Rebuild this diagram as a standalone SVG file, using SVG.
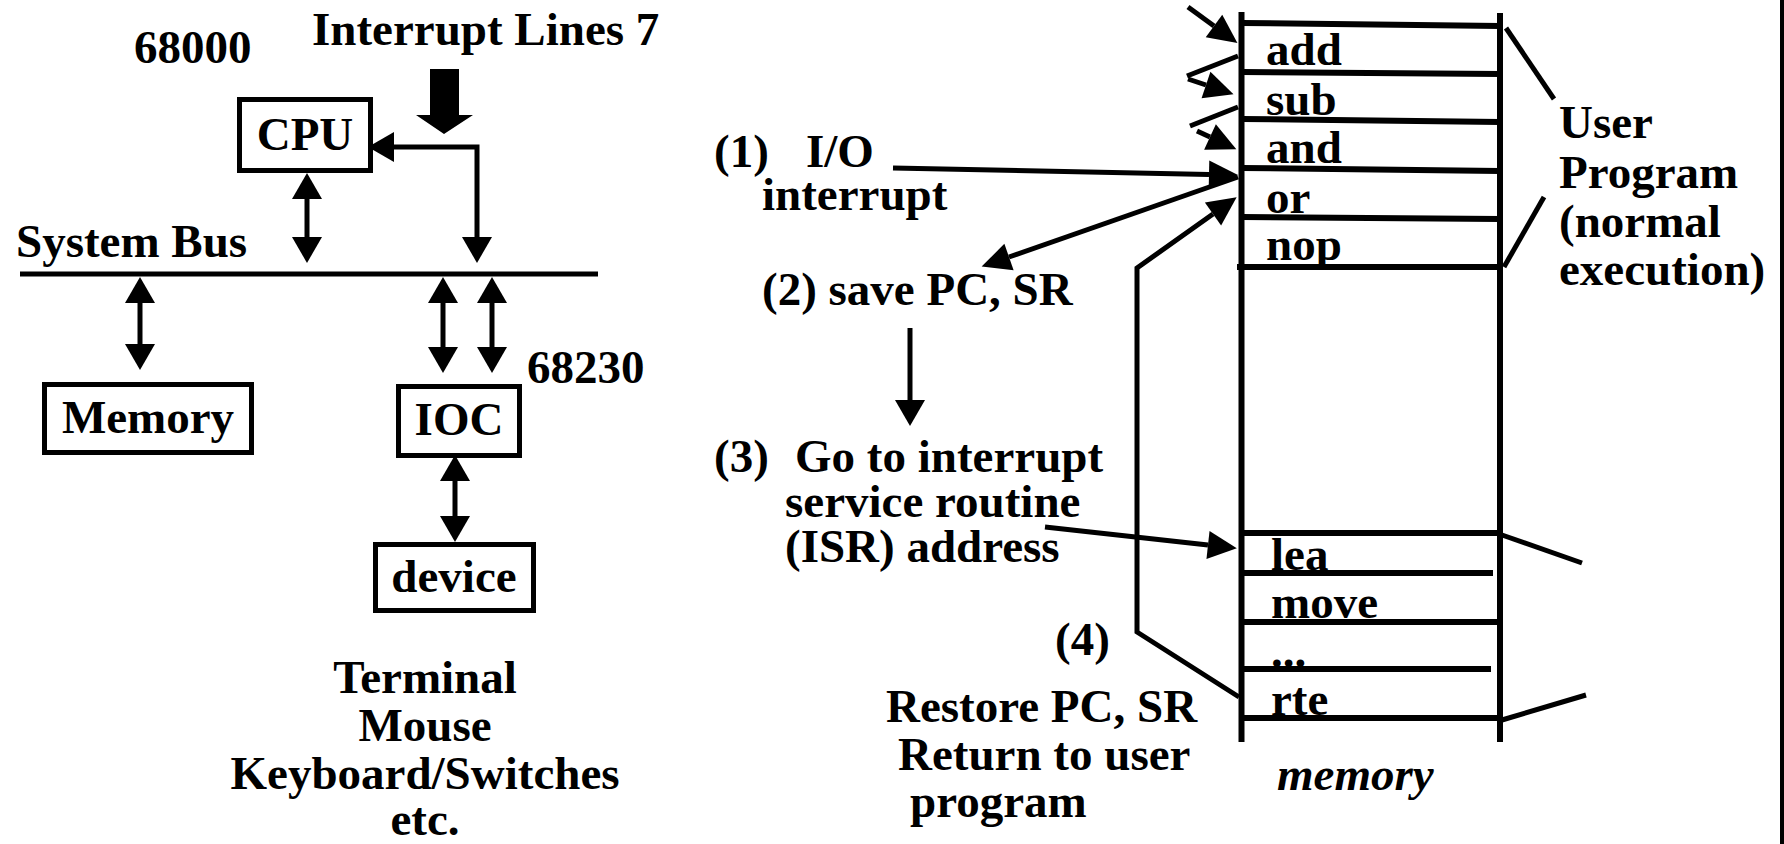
<svg xmlns="http://www.w3.org/2000/svg" width="1784" height="844" viewBox="0 0 1784 844">
  <style>
    text { font-family: "Liberation Serif", "Times New Roman", serif; font-weight: bold; font-size: 47px; fill: #000; }
    .it { font-style: italic; }
    .mid { text-anchor: middle; }
    .box { fill: #fff; stroke: #000; stroke-width: 5; }
    .ln { fill: none; stroke: #000; stroke-width: 5; }
    .mem { fill: none; stroke: #000; stroke-width: 6; }
  </style>
  <defs>
    <!-- arrowheads start at the end of the line and extend beyond it -->
    <marker id="ah" markerUnits="userSpaceOnUse" markerWidth="26" markerHeight="30" refX="0" refY="15" orient="auto-start-reverse" overflow="visible">
      <path d="M0,0 L26,15 L0,30 Z" fill="#000"/>
    </marker>
    <marker id="ah2" markerUnits="userSpaceOnUse" markerWidth="29" markerHeight="28" refX="0" refY="14" orient="auto-start-reverse" overflow="visible">
      <path d="M0,0 L29,14 L0,28 Z" fill="#000"/>
    </marker>
  </defs>
  <rect width="1784" height="844" fill="#fff"/>
  <!-- frame edge on the right -->
  <rect x="1780" y="0" width="4" height="844" fill="#000"/>

  <!-- ===== system block diagram ===== -->
  <text x="134" y="63">68000</text>
  <text x="312" y="45">Interrupt Lines 7</text>
  <polygon points="430,69 459,69 459,115 473,115 444,134 416,115 430,115" fill="#000"/>

  <line id="system-bus" class="ln" x1="20" y1="274" x2="598" y2="274"/>
  <text x="16" y="257">System Bus</text>

  <g id="cpu">
    <rect class="box" x="239.5" y="99.5" width="131" height="71"/>
    <text x="305" y="150" class="mid">CPU</text>
  </g>
  <g id="memory">
    <rect class="box" x="44.5" y="384.5" width="207" height="68"/>
    <text x="148" y="433" class="mid">Memory</text>
  </g>
  <g id="ioc">
    <rect class="box" x="398.5" y="386.5" width="121" height="69"/>
    <text x="459" y="435" class="mid">IOC</text>
    <text x="527" y="383">68230</text>
  </g>
  <g id="device">
    <rect class="box" x="375.5" y="544.5" width="158" height="66"/>
    <text x="454" y="592" class="mid">device</text>
  </g>
  <g id="device-list">
    <text x="425" y="693" class="mid">Terminal</text>
    <text x="425" y="741" class="mid">Mouse</text>
    <text x="425" y="789" class="mid">Keyboard/Switches</text>
    <text x="425" y="835" class="mid">etc.</text>
  </g>

  <g id="bus-connectors">
    <polyline class="ln" points="477,237 477,147 394,147" marker-start="url(#ah)" marker-end="url(#ah)"/>
    <line class="ln" x1="307" y1="199" x2="307" y2="237" marker-start="url(#ah)" marker-end="url(#ah)"/>
    <line class="ln" x1="140" y1="303" x2="140" y2="344" marker-start="url(#ah)" marker-end="url(#ah)"/>
    <line class="ln" x1="443" y1="303" x2="443" y2="347" marker-start="url(#ah)" marker-end="url(#ah)"/>
    <line class="ln" x1="492" y1="303" x2="492" y2="347" marker-start="url(#ah)" marker-end="url(#ah)"/>
    <line class="ln" x1="455" y1="481" x2="455" y2="516" marker-start="url(#ah)" marker-end="url(#ah)"/>
  </g>

  <!-- ===== memory map ===== -->
  <g id="memory-map">
    <line class="mem" x1="1241.5" y1="12" x2="1241.5" y2="742"/>
    <line class="mem" x1="1500" y1="13" x2="1500" y2="742"/>
    <line class="mem" x1="1242" y1="23" x2="1500" y2="26"/>
    <line class="mem" x1="1242" y1="72" x2="1500" y2="74"/>
    <line class="mem" x1="1242" y1="119" x2="1500" y2="122"/>
    <line class="mem" x1="1242" y1="168" x2="1500" y2="171"/>
    <line class="mem" x1="1242" y1="217" x2="1500" y2="219"/>
    <line class="mem" x1="1237" y1="267" x2="1500" y2="267"/>
    <line class="mem" x1="1242" y1="533" x2="1500" y2="533"/>
    <line class="mem" x1="1242" y1="573" x2="1493" y2="573"/>
    <line class="mem" x1="1242" y1="622" x2="1500" y2="622"/>
    <line class="mem" x1="1242" y1="669" x2="1491" y2="669"/>
    <line class="mem" x1="1242" y1="718" x2="1500" y2="718"/>
    <text x="1266" y="65">add</text>
    <text x="1266" y="115">sub</text>
    <text x="1266" y="163">and</text>
    <text x="1266" y="213">or</text>
    <text x="1266" y="260">nop</text>
    <text x="1271" y="570">lea</text>
    <text x="1271" y="618">move</text>
    <text x="1271" y="667">...</text>
    <text x="1271" y="715">rte</text>
    <text x="1277" y="790" class="it">memory</text>
  </g>

  <g id="user-program">
    <line class="ln" x1="1506" y1="28" x2="1554" y2="99"/>
    <line class="ln" x1="1544" y1="197" x2="1504" y2="267"/>
    <line class="ln" x1="1502" y1="535" x2="1582" y2="563"/>
    <line class="ln" x1="1502" y1="720" x2="1586" y2="695"/>
    <text x="1559" y="138">User</text>
    <text x="1559" y="188">Program</text>
    <text x="1559" y="237">(normal</text>
    <text x="1559" y="285">execution)</text>
  </g>

  <g id="step-labels">
    <text x="714" y="167">(1)</text>
    <text x="806" y="167">I/O</text>
    <text x="762" y="210">interrupt</text>
    <text x="762" y="305">(2) save PC, SR</text>
    <text x="714" y="472">(3)</text>
    <text x="795" y="472">Go to interrupt</text>
    <text x="785" y="517">service routine</text>
    <text x="785" y="562">(ISR) address</text>
    <text x="1055" y="655">(4)</text>
    <text x="886" y="722">Restore PC, SR</text>
    <text x="898" y="770">Return to user</text>
    <text x="910" y="817">program</text>
  </g>

  <g id="flow-connectors">
    <!-- sequential execution -->
    <line class="ln" x1="1188" y1="7" x2="1214" y2="26" marker-end="url(#ah2)"/>
    <line class="ln" x1="1238" y1="56" x2="1187" y2="76"/>
    <line class="ln" x1="1188" y1="79" x2="1206" y2="85" marker-end="url(#ah2)"/>
    <line class="ln" x1="1238" y1="107" x2="1190" y2="126"/>
    <line class="ln" x1="1197" y1="131" x2="1210" y2="137" marker-end="url(#ah2)"/>
    <!-- (1) interrupt arrives -->
    <line class="ln" x1="893" y1="168" x2="1209" y2="174.5" marker-end="url(#ah2)"/>
    <!-- (2) save PC, SR -->
    <line class="ln" x1="1238" y1="177" x2="1009" y2="257" marker-end="url(#ah2)"/>
    <!-- (2) to (3) -->
    <line class="ln" x1="910" y1="328" x2="910" y2="400" marker-end="url(#ah)"/>
    <!-- (3) jump to ISR -->
    <line class="ln" x1="1045" y1="527" x2="1208" y2="545" marker-end="url(#ah2)"/>
    <!-- (4) return to user program -->
    <polyline class="ln" points="1239,697 1137,632 1137,268 1213,214" marker-end="url(#ah2)"/>
  </g>
</svg>
